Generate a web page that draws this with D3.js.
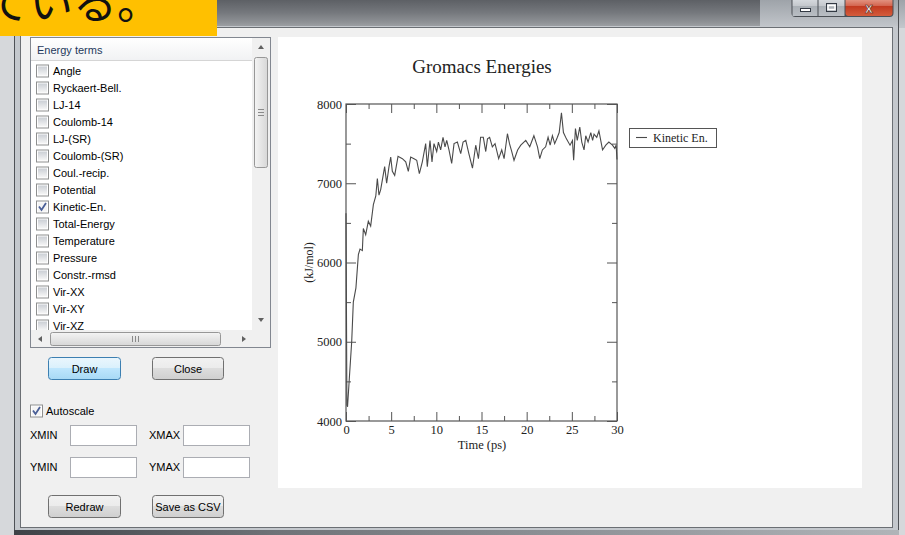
<!DOCTYPE html>
<html><head><meta charset="utf-8">
<script src="https://cdn.jsdelivr.net/npm/d3@7"></script>
<style>body{margin:0;overflow:hidden;background:#d6d8db} svg{display:block}</style>
</head><body><svg id="s" width="905" height="535"></svg>
<script>
// ---------- data ----------
const energyTerms = ["Angle","Ryckaert-Bell.","LJ-14","Coulomb-14","LJ-(SR)","Coulomb-(SR)","Coul.-recip.","Potential","Kinetic-En.","Total-Energy","Temperature","Pressure","Constr.-rmsd","Vir-XX","Vir-XY","Vir-XZ"];
const checkedTerms = ["Kinetic-En."];
const chartTitle = "Gromacs Energies";
const seriesName = "Kinetic En.";
const xLabel = "Time (ps)";
const yLabel = "(kJ/mol)";
const xTicks = [0,5,10,15,20,25,30];
const xMinorTicks = [2.5,7.5,12.5,17.5,22.5,27.5];
const yTicks = [4000,5000,6000,7000,8000];
const yMinorTicks = [4500,5500,6500,7500];
const timePs = [0,0.1,0.17,0.37,0.63,0.81,1.1,1.37,1.55,1.81,1.92,2.18,2.47,2.73,3.03,3.3,3.47,3.65,3.84,4.28,4.5,4.76,4.95,5.13,5.39,5.76,6.24,6.61,6.9,7.16,7.53,7.83,8.12,8.45,8.82,9.0,9.3,9.52,9.74,10.04,10.23,10.48,10.74,10.96,11.15,11.4,11.7,11.96,12.33,12.7,12.96,13.26,13.6,14.0,14.36,14.66,14.9,15.2,15.47,15.66,15.9,16.2,16.5,16.9,17.24,17.5,17.87,18.1,18.35,18.6,19.0,19.35,19.9,20.34,20.8,21.2,21.45,21.74,22.1,22.37,22.6,22.85,23.1,23.4,23.6,23.85,24.07,24.4,24.8,25.07,25.2,25.4,25.6,25.88,26.1,26.35,26.54,26.8,27.1,27.3,27.46,27.76,28.0,28.4,28.76,29.1,29.5,29.75,29.9,30];
const kineticEn = [6620,4200,4180,4540,5000,5500,5680,6100,6170,6150,6430,6350,6520,6460,6730,6840,7060,6850,6920,7210,7000,7210,7330,7150,7100,7340,7310,7270,7150,7330,7310,7290,7120,7270,7500,7210,7540,7270,7500,7400,7520,7420,7580,7460,7540,7420,7250,7500,7520,7375,7520,7540,7375,7190,7480,7310,7580,7580,7400,7560,7580,7460,7500,7310,7420,7310,7625,7500,7400,7290,7420,7480,7540,7460,7600,7460,7310,7420,7460,7580,7480,7600,7500,7580,7640,7890,7640,7560,7480,7540,7290,7690,7540,7710,7520,7420,7600,7520,7640,7540,7620,7580,7660,7420,7480,7520,7480,7440,7480,7300];

const svg = d3.select("#s");
const defs = svg.append("defs");
function lg(id, stops, vertical=true){
  const g = defs.append("linearGradient").attr("id",id)
    .attr("x1",0).attr("y1",0).attr("x2",vertical?0:1).attr("y2",vertical?1:0);
  stops.forEach(s=>g.append("stop").attr("offset",s[0]).attr("stop-color",s[1]));
}
lg("title",[[0,"#5d6065"],[0.45,"#75787d"],[0.8,"#8f9296"],[1,"#a3a6aa"]]);
lg("titleR",[[0,"#9ea3a9"],[1,"#c3c7cc"]]);
lg("btn",[[0,"#f2f2f2"],[0.5,"#ebebeb"],[0.5,"#dddddd"],[1,"#cfcfcf"]]);
lg("btnF",[[0,"#eaf6fd"],[0.5,"#d9f0fc"],[0.5,"#bee6fd"],[1,"#a7d9f5"]]);
lg("cb",[[0,"#cbcfd5"],[1,"#f6f6f6"]]);
lg("thumbV",[[0,"#f4f4f4"],[1,"#d7d7d7"]],false);
lg("thumbH",[[0,"#f4f4f4"],[1,"#d7d7d7"]]);
lg("hdr",[[0,"#ffffff"],[1,"#f1f2f4"]]);
lg("tb",[[0,"#dde1e5"],[0.5,"#c2c6cb"],[0.5,"#aab0b6"],[1,"#b9bec4"]]);
lg("close",[[0,"#e9a897"],[0.5,"#d2604a"],[0.5,"#c23a20"],[1,"#d45c3c"]]);
lg("bottom",[[0,"#3e4247"],[0.3,"#6f7378"],[0.6,"#8b8f94"],[1,"#b0b4b8"]],false);

const UI = "'Liberation Sans', Arial, sans-serif";
const SERIF = "'Liberation Serif', 'Times New Roman', serif";

// ---------- window chrome ----------
svg.append("rect").attr("x",0).attr("y",0).attr("width",905).attr("height",28).attr("fill","url(#title)");
svg.append("rect").attr("x",760).attr("y",0).attr("width",145).attr("height",28).attr("fill","url(#titleR)");
svg.append("rect").attr("x",14).attr("y",26).attr("width",885).attr("height",509).attr("fill","#c4c8cd");
svg.append("line").attr("x1",14.5).attr("x2",14.5).attr("y1",26).attr("y2",535).attr("stroke","#4e5156");
svg.append("line").attr("x1",898.5).attr("x2",898.5).attr("y1",0).attr("y2",535).attr("stroke","#4e5156");
svg.append("rect").attr("x",20.5).attr("y",27.5).attr("width",872).attr("height",500).attr("fill","#f0f0f0").attr("stroke","#6b6f74");
svg.append("rect").attr("x",14).attr("y",530).attr("width",885).attr("height",5).attr("fill","url(#bottom)");

// caption buttons
const cap = svg.append("g");
cap.append("rect").attr("x",791.5).attr("y",-4).attr("width",102).attr("height",21).attr("rx",4).attr("fill","#4a4f55");
cap.append("rect").attr("x",792.5).attr("y",-3).attr("width",25).attr("height",19).attr("fill","url(#tb)");
cap.append("rect").attr("x",818.5).attr("y",-3).attr("width",26).attr("height",19).attr("fill","url(#tb)");
cap.append("rect").attr("x",845.5).attr("y",-3).attr("width",47).attr("height",19).attr("rx",3).attr("fill","url(#close)");
cap.append("rect").attr("x",800.5).attr("y",8.5).attr("width",10).attr("height",3).attr("fill","#fff").attr("stroke","#333a44");
cap.append("rect").attr("x",826.5).attr("y",3.5).attr("width",10).attr("height",8).attr("fill","none").attr("stroke","#333a44");
cap.append("rect").attr("x",828).attr("y",5.5).attr("width",7).attr("height",4).attr("fill","none").attr("stroke","#fff").attr("stroke-width",1.5);
cap.append("text").attr("x",869).attr("y",13).attr("text-anchor","middle").attr("font-family",UI).attr("font-weight","bold")
  .attr("font-size",14).attr("fill","#fff").attr("stroke","#5a2a20").attr("stroke-width",0.6).text("x");

// orange banner
svg.append("rect").attr("x",0).attr("y",0).attr("width",217).attr("height",36).attr("fill","#ffc000");
svg.append("text").attr("x",-15).attr("y",19).attr("font-family","'Noto Sans CJK JP'").attr("font-size",44)
  .attr("fill","#111").text("ている。");

// ---------- list box ----------
const lb = svg.append("g");
lb.append("rect").attr("x",30.5).attr("y",37.5).attr("width",240).attr("height",310).attr("fill","#fff").attr("stroke","#828790");
lb.append("rect").attr("x",31).attr("y",38).attr("width",221).attr("height",22).attr("fill","url(#hdr)");
lb.append("line").attr("x1",31).attr("x2",252).attr("y1",60.5).attr("y2",60.5).attr("stroke","#d5d5d5");
lb.append("text").attr("x",37).attr("y",54).attr("font-family",UI).attr("font-size",11).attr("fill","#1e395b").text("Energy terms");
// vertical scrollbar
lb.append("rect").attr("x",252).attr("y",38).attr("width",18).attr("height",292).attr("fill","#f0f0f0");
lb.append("rect").attr("x",254.5).attr("y",57.5).attr("width",13).attr("height",110).attr("rx",2).attr("fill","url(#thumbV)").attr("stroke","#979797");
[109,112,115].forEach(yy=>lb.append("line").attr("x1",258).attr("x2",264).attr("y1",yy+0.5).attr("y2",yy+0.5).attr("stroke","#8a8a8a"));
lb.append("path").attr("d","M258,49 L264,49 L261,45 Z").attr("fill","#606060");
lb.append("path").attr("d","M258,318 L264,318 L261,322 Z").attr("fill","#606060");
// horizontal scrollbar
lb.append("rect").attr("x",31).attr("y",330).attr("width",239).attr("height",17).attr("fill","#f0f0f0");
lb.append("rect").attr("x",50.5).attr("y",332.5).attr("width",170).attr("height",13).attr("rx",2).attr("fill","url(#thumbH)").attr("stroke","#979797");
[132,135,138].forEach(xx=>lb.append("line").attr("x1",xx+0.5).attr("x2",xx+0.5).attr("y1",336).attr("y2",342).attr("stroke","#8a8a8a"));
lb.append("path").attr("d","M42,336 L42,342 L38,339 Z").attr("fill","#606060");
lb.append("path").attr("d","M242,336 L242,342 L246,339 Z").attr("fill","#606060");

defs.append("clipPath").attr("id","listclip").append("rect").attr("x",31).attr("y",61).attr("width",221).attr("height",269);
const items = lb.append("g").attr("clip-path","url(#listclip)");

function checkbox(g, x, y, checked){
  g.append("rect").attr("x",x+0.5).attr("y",y+0.5).attr("width",12).attr("height",12).attr("fill","#fff").attr("stroke","#8e8f8f");
  g.append("rect").attr("x",x+2).attr("y",y+2).attr("width",9).attr("height",9).attr("fill",checked?"#f4f4f4":"url(#cb)");
  if(checked) g.append("path").attr("d",`M${x+3},${y+6} L${x+5.5},${y+9.5} L${x+10},${y+2.5}`)
    .attr("fill","none").attr("stroke","#4a5f97").attr("stroke-width",1.8);
}
energyTerms.forEach((t,i)=>{
  const cy = 71 + i*17;
  checkbox(items, 36, cy-6.5, checkedTerms.includes(t));
  items.append("text").attr("x",53).attr("y",cy+4).attr("font-family",UI).attr("font-size",11).attr("fill","#000").text(t);
});

// ---------- buttons & fields ----------
function button(x,y,w,h,label,focus){
  svg.append("rect").attr("x",x+0.5).attr("y",y+0.5).attr("width",w).attr("height",h).attr("rx",3)
    .attr("fill",focus?"url(#btnF)":"url(#btn)").attr("stroke",focus?"#3c7fb1":"#707070");
  svg.append("text").attr("x",x+w/2+0.5).attr("y",y+h/2+4.5).attr("text-anchor","middle").attr("font-family",UI)
    .attr("font-size",11).attr("fill","#000").text(label);
}
button(48,357,72,22,"Draw",true);
button(152,357,71,22,"Close",false);
button(48,495,72,22,"Redraw",false);
button(152,495,71,22,"Save as CSV",false);
checkbox(svg,30,404.5,true);
svg.append("text").attr("x",46).attr("y",415).attr("font-family",UI).attr("font-size",11).text("Autoscale");
[["XMIN",30,70,425],["XMAX",149,183,425],["YMIN",30,70,457],["YMAX",149,183,457]].forEach(f=>{
  svg.append("text").attr("x",f[1]).attr("y",f[3]+14).attr("font-family",UI).attr("font-size",11).text(f[0]);
  svg.append("rect").attr("x",f[2]+0.5).attr("y",f[3]+0.5).attr("width",66).attr("height",20).attr("fill","#fff").attr("stroke","#abadb3");
});

// ---------- chart panel ----------
svg.append("rect").attr("x",278).attr("y",37).attr("width",584).attr("height",451).attr("fill","#fff");
const x = d3.scaleLinear().domain([0,30]).range([346,617]);
const y = d3.scaleLinear().domain([4000,8000]).range([421,104]);
const AX = "#555";
const ch = svg.append("g");

function styleAxis(g){
  g.select(".domain").remove();
  g.selectAll("line").attr("stroke",AX);
  g.selectAll("text").attr("font-family",SERIF).attr("font-size",12.5).attr("fill","#222");
}
ch.append("g").attr("transform",`translate(0,${y(4000)})`)
  .call(d3.axisBottom(x).tickValues(xTicks).tickSizeInner(-9).tickSizeOuter(0).tickPadding(4).tickFormat(d3.format("d"))).call(styleAxis);
ch.append("g").attr("transform",`translate(0,${y(4000)})`)
  .call(d3.axisBottom(x).tickValues(xMinorTicks).tickSizeInner(-5).tickSizeOuter(0).tickFormat("")).call(styleAxis);
ch.append("g").attr("transform",`translate(0,${y(8000)})`)
  .call(d3.axisTop(x).tickValues(xTicks).tickSizeInner(-9).tickSizeOuter(0).tickFormat("")).call(styleAxis);
ch.append("g").attr("transform",`translate(0,${y(8000)})`)
  .call(d3.axisTop(x).tickValues(xMinorTicks).tickSizeInner(-5).tickSizeOuter(0).tickFormat("")).call(styleAxis);
ch.append("g").attr("transform",`translate(${x(0)},0)`)
  .call(d3.axisLeft(y).tickValues(yTicks).tickSizeInner(-10).tickSizeOuter(0).tickPadding(4).tickFormat(d3.format("d"))).call(styleAxis);
ch.append("g").attr("transform",`translate(${x(0)},0)`)
  .call(d3.axisLeft(y).tickValues(yMinorTicks).tickSizeInner(-5).tickSizeOuter(0).tickFormat("")).call(styleAxis);
ch.append("g").attr("transform",`translate(${x(30)},0)`)
  .call(d3.axisRight(y).tickValues(yTicks).tickSizeInner(-10).tickSizeOuter(0).tickFormat("")).call(styleAxis);
ch.append("g").attr("transform",`translate(${x(30)},0)`)
  .call(d3.axisRight(y).tickValues(yMinorTicks).tickSizeInner(-5).tickSizeOuter(0).tickFormat("")).call(styleAxis);
ch.append("rect").attr("x",x(0)).attr("y",y(8000)).attr("width",x(30)-x(0)).attr("height",y(4000)-y(8000))
  .attr("fill","none").attr("stroke",AX).attr("stroke-width",1.2);

const pts = timePs.map((t,i)=>[t,kineticEn[i]]);
ch.append("path").datum(pts).attr("fill","none").attr("stroke","#4a4a4a").attr("stroke-width",1.1)
  .attr("d",d3.line().x(d=>x(d[0])).y(d=>y(d[1])));

ch.append("text").attr("x",482).attr("y",73).attr("text-anchor","middle").attr("font-family",SERIF).attr("font-size",19).attr("fill","#222").text(chartTitle);
ch.append("text").attr("x",482).attr("y",449).attr("text-anchor","middle").attr("font-family",SERIF).attr("font-size",12.5).attr("fill","#222").text(xLabel);
ch.append("text").attr("transform",`translate(313,${(y(4000)+y(8000))/2}) rotate(-90)`).attr("text-anchor","middle")
  .attr("font-family",SERIF).attr("font-size",12).attr("fill","#222").text(yLabel);

// legend
const lgd = ch.append("g");
lgd.append("rect").attr("x",629.5).attr("y",128.5).attr("width",87).attr("height",19).attr("fill","#fff").attr("stroke",AX);
lgd.append("line").attr("x1",636).attr("x2",647).attr("y1",137.5).attr("y2",137.5).attr("stroke","#4a4a4a").attr("stroke-width",1.1);
lgd.append("text").attr("x",653).attr("y",141.5).attr("font-family",SERIF).attr("font-size",12).attr("fill","#222").text(seriesName);
</script></body></html>
